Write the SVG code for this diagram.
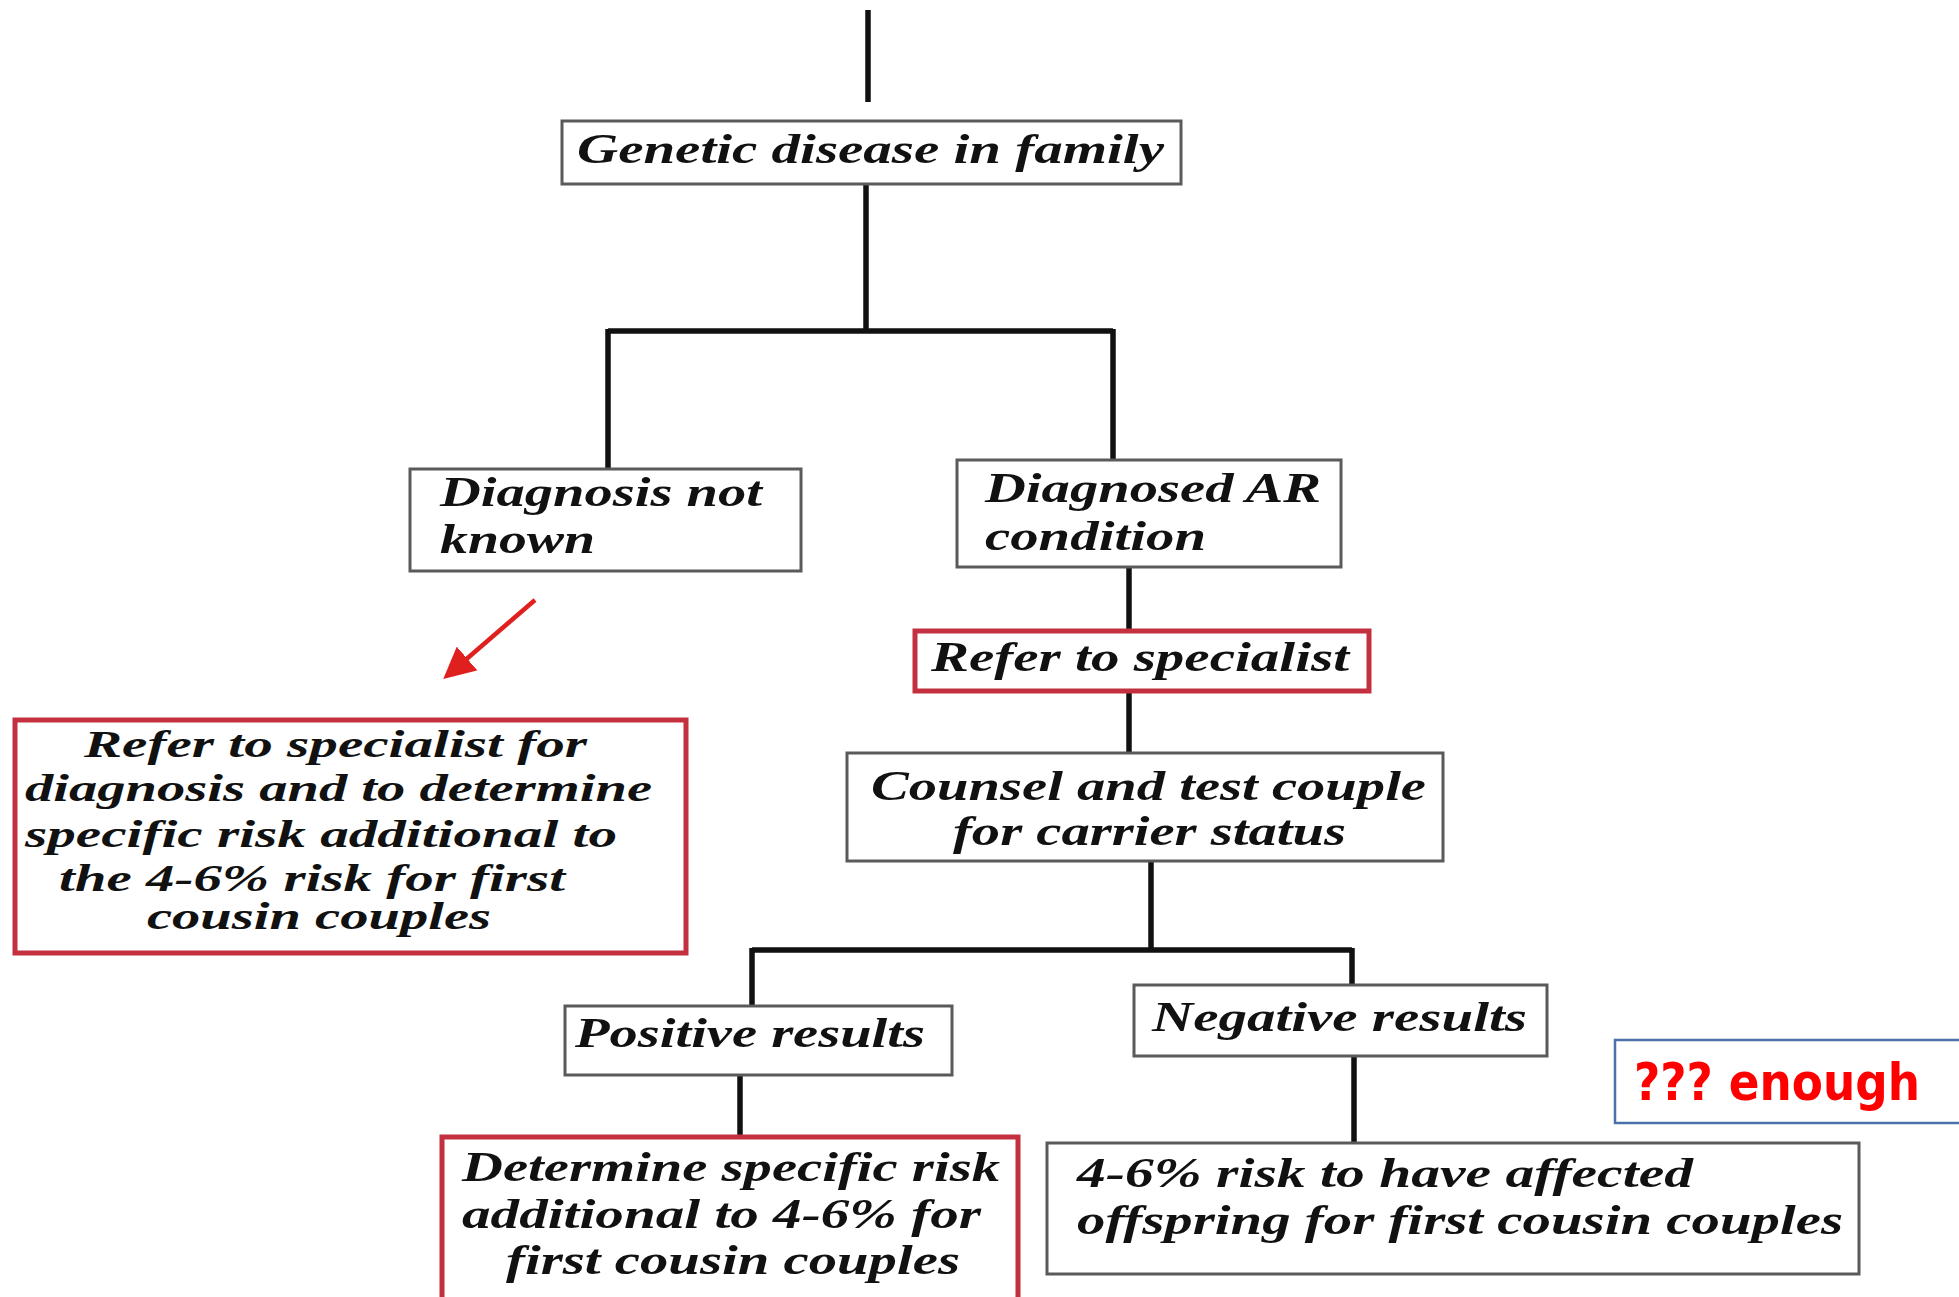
<svg xmlns="http://www.w3.org/2000/svg" width="1959" height="1297" viewBox="0 0 1959 1297">
  <style>
    .box { fill: #ffffff; stroke: #5a5a5a; stroke-width: 3; }
    .box-red { fill: #ffffff; stroke: #c4303f; stroke-width: 5; }
    .box-blue { fill: #ffffff; stroke: #4a72a8; stroke-width: 2.5; }
    .lbl { font-family: "Liberation Serif", "Times New Roman", serif; font-weight: bold; font-style: italic; font-size: 42px; fill: #111111; }
    .lbl.small { font-size: 38px; }
    .note { font-family: "Comic Sans MS", "DejaVu Sans", sans-serif; font-weight: bold; font-size: 52px; fill: #ff0000; }
    .wire { fill: none; stroke: #111111; stroke-width: 5.5; }
  </style>
  <defs>
    <marker id="redHead" viewBox="0 0 10 10" refX="8" refY="5" markerWidth="7" markerHeight="7" orient="auto" markerUnits="strokeWidth">
      <path d="M0,0 L10,5 L0,10 z" fill="#e0201e"/>
    </marker>
  </defs>
  <rect width="1959" height="1297" fill="#ffffff"/>

  <!-- connectors -->
  <g id="connectors">
    <path class="wire" d="M868,10 V102"/>
    <path class="wire" d="M866,184 V331 M608,331 H1113 M608,329 V469 M1113,329 V460"/>
    <path class="wire" d="M1129,567 V631"/>
    <path class="wire" d="M1129,691 V753"/>
    <path class="wire" d="M1151,861 V950 M752,950 H1352 M752,948 V1006 M1352,948 V985"/>
    <path class="wire" d="M740,1075 V1137"/>
    <path class="wire" d="M1354,1056 V1143"/>
    <path d="M535,600 L448,675" fill="none" stroke="#e0201e" stroke-width="4.5" marker-end="url(#redHead)"/>
  </g>

  <!-- nodes -->
  <g id="genetic">
    <rect class="box" x="562" y="121" width="619" height="63"/>
    <text class="lbl" x="577" y="163" textLength="587" lengthAdjust="spacingAndGlyphs">Genetic disease in family</text>
  </g>

  <g id="not-known">
    <rect class="box" x="410" y="469" width="391" height="102"/>
    <text class="lbl" x="440" y="506" textLength="322" lengthAdjust="spacingAndGlyphs">Diagnosis not</text>
    <text class="lbl" x="440" y="553" textLength="155" lengthAdjust="spacingAndGlyphs">known</text>
  </g>

  <g id="diagnosed-ar">
    <rect class="box" x="957" y="460" width="384" height="107"/>
    <text class="lbl" x="985" y="502" textLength="336" lengthAdjust="spacingAndGlyphs">Diagnosed AR</text>
    <text class="lbl" x="985" y="550" textLength="221" lengthAdjust="spacingAndGlyphs">condition</text>
  </g>

  <g id="refer-specialist">
    <rect class="box-red" x="915" y="631" width="454" height="60"/>
    <text class="lbl" x="931" y="671" textLength="418" lengthAdjust="spacingAndGlyphs">Refer to specialist</text>
  </g>

  <g id="counsel">
    <rect class="box" x="847" y="753" width="596" height="108"/>
    <text class="lbl" x="871" y="800" textLength="555" lengthAdjust="spacingAndGlyphs">Counsel and test couple</text>
    <text class="lbl" x="953" y="845" textLength="393" lengthAdjust="spacingAndGlyphs">for carrier status</text>
  </g>

  <g id="positive">
    <rect class="box" x="565" y="1006" width="387" height="69"/>
    <text class="lbl" x="575" y="1047" textLength="350" lengthAdjust="spacingAndGlyphs">Positive results</text>
  </g>

  <g id="negative">
    <rect class="box" x="1134" y="985" width="413" height="71"/>
    <text class="lbl" x="1152" y="1031" textLength="375" lengthAdjust="spacingAndGlyphs">Negative results</text>
  </g>

  <g id="determine">
    <rect class="box-red" x="442" y="1137" width="576" height="165"/>
    <text class="lbl" x="462" y="1181" textLength="538" lengthAdjust="spacingAndGlyphs">Determine specific risk</text>
    <text class="lbl" x="462" y="1228" textLength="519" lengthAdjust="spacingAndGlyphs">additional to 4-6% for</text>
    <text class="lbl" x="506" y="1274" textLength="454" lengthAdjust="spacingAndGlyphs">first cousin couples</text>
  </g>

  <g id="baseline-risk">
    <rect class="box" x="1047" y="1143" width="812" height="131"/>
    <text class="lbl" x="1077" y="1187" textLength="616" lengthAdjust="spacingAndGlyphs">4-6% risk to have affected</text>
    <text class="lbl" x="1077" y="1234" textLength="766" lengthAdjust="spacingAndGlyphs">offspring for first cousin couples</text>
  </g>

  <g id="refer-diagnosis">
    <rect class="box-red" x="15" y="720" width="671" height="233"/>
    <text class="lbl small" x="84" y="757" textLength="503" lengthAdjust="spacingAndGlyphs">Refer to specialist for</text>
    <text class="lbl small" x="25" y="801" textLength="627" lengthAdjust="spacingAndGlyphs">diagnosis and to determine</text>
    <text class="lbl small" x="25" y="847" textLength="592" lengthAdjust="spacingAndGlyphs">specific risk additional to</text>
    <text class="lbl small" x="59" y="891" textLength="506" lengthAdjust="spacingAndGlyphs">the 4-6% risk for first</text>
    <text class="lbl small" x="147" y="929" textLength="344" lengthAdjust="spacingAndGlyphs">cousin couples</text>
  </g>

  <g id="note">
    <rect class="box-blue" x="1615" y="1040" width="360" height="83"/>
    <text class="note" x="1634" y="1100" textLength="286" lengthAdjust="spacingAndGlyphs">??? enough</text>
  </g>
</svg>
